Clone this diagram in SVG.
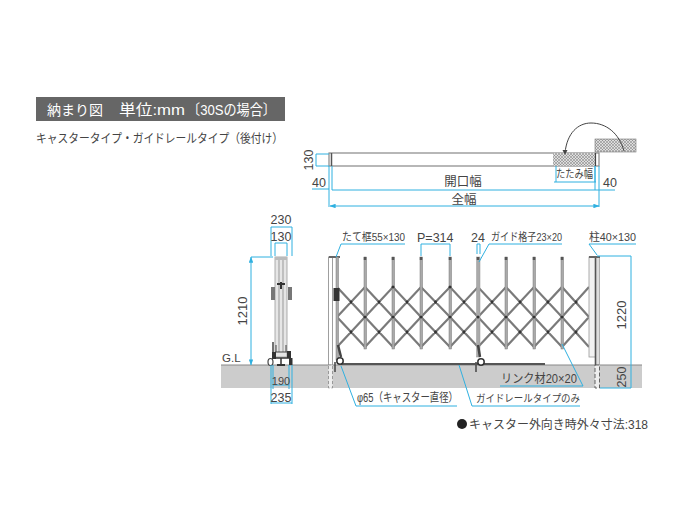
<svg xmlns="http://www.w3.org/2000/svg" width="700" height="524" viewBox="0 0 700 524">
<defs>
<style>
text{font-family:"Liberation Sans","Noto Sans CJK JP",sans-serif;fill:#444;font-size:12px}
.c{text-anchor:middle}
.d{stroke:#2fb0e0;stroke-width:1;fill:none}
.u{fill:#aaa;stroke:#777;stroke-width:.5}
.l{stroke:#7a7a7a;stroke-width:2.2;fill:none}
.k{stroke:#444;fill:none;stroke-width:1}
</style>
<pattern id="h" width="3" height="3" patternUnits="userSpaceOnUse"><rect width="3" height="3" fill="#ddd"/><circle cx="1" cy="1" r=".7" fill="#555"/><circle cx="2.5" cy="2.5" r=".5" fill="#777"/></pattern>
<marker id="a" viewBox="0 0 8 6" refX="7.5" refY="3" markerWidth="6" markerHeight="4.500" orient="auto-start-reverse"><path d="M0 0L8 3L0 6z" fill="#2fb0e0"/></marker>
</defs>
<rect width="700" height="524" fill="#fff"/>
<g id="title">
<rect x="36" y="97" width="249" height="24" fill="#666"/>
<text x="47" y="115" style="font-size:14px;fill:#fff" textLength="56" lengthAdjust="spacingAndGlyphs">納まり図</text>
<text x="119" y="115" style="font-size:14.500px;fill:#fff" textLength="66" lengthAdjust="spacingAndGlyphs">単位:mm</text>
<text x="187" y="115" style="font-size:14.500px;fill:#fff" textLength="89" lengthAdjust="spacingAndGlyphs">〔30Sの場合〕</text>
<text x="36" y="143" style="font-size:12.500px" textLength="247" lengthAdjust="spacingAndGlyphs">キャスタータイプ・ガイドレールタイプ（後付け）</text>
</g>
<g id="ground">
<rect x="221" y="365" width="421" height="23" fill="#ccc"/>
<path d="M221 365H642" stroke="#888" stroke-width="1"/>
<text x="222" y="362" style="font-size:11.500px">G.L</text>
</g>
<g id="plan">
<rect x="329" y="153" width="270" height="13" fill="#fff" stroke="#888" stroke-width="1.200"/>
<path d="M331.500 153V166" stroke="#555" stroke-width="1.500"/>
<rect x="553" y="153" width="42" height="13" fill="url(#h)"/>
<path d="M595.500 153V166" stroke="#444" stroke-width="1.200"/>
<rect x="595" y="139" width="41" height="13" fill="url(#h)" stroke="#777" stroke-width=".6"/>
<path d="M565 153C567 133 578 123 591 123C606 123 619 133 624 151" class="k"/>
<path d="M562.500 150L567.500 150L565 155z" fill="#444"/>
</g>
<g id="gate">
<rect x="328.500" y="257" width="4" height="108" fill="#fff" stroke="#888" stroke-width=".8"/>
<rect x="328.500" y="365" width="4" height="23" fill="#eee" stroke="#888" stroke-width=".8" stroke-dasharray="3 2"/>
<path d="M329 257H340" stroke="#666" stroke-width="2"/>
<path class="l" d="M337 317L365 347M337 317L365 287L393 317L421 347M337 347L365 317L393 287L421 317L450 347M365 347L393 317L421 287L450 317L478 347M393 347L421 317L450 287L478 317L506 347M421 347L450 317L478 287L506 317L534 347M450 347L478 317L506 287L534 317L562 347M478 347L506 317L534 287L562 317L589 347M506 347L534 317L562 287L589 317M534 347L562 317L589 287M562 347L589 317M337 287L365 317L393 347M365 287L393 317M562 287L589 317"/>
<g>
<rect x="336" y="257" width="2.500" height="103" class="u"/>
<rect x="364" y="257" width="2.500" height="92" class="u"/>
<rect x="392" y="257" width="2.500" height="92" class="u"/>
<rect x="420" y="257" width="2.500" height="92" class="u"/>
<rect x="449" y="257" width="2.500" height="92" class="u"/>
<rect x="476.500" y="257" width="3.500" height="100" fill="#aaa" stroke="#999" stroke-width=".5"/>
<rect x="505" y="257" width="2.500" height="92" class="u"/>
<rect x="533" y="257" width="2.500" height="92" class="u"/>
<rect x="561" y="257" width="2.500" height="92" class="u"/>
</g>
<path d="M365 257v3M393 257v3M421 257v3M450 257v3M478 257v3M506 257v3M534 257v3M562 257v3" stroke="#555" stroke-width="2.500"/>
<path d="M351 302h.01M379 302h.01M407 302h.01M435.500 302h.01M464 302h.01M492 302h.01M520 302h.01M548 302h.01M576 302h.01M351 332h.01M379 332h.01M407 332h.01M435.500 332h.01M464 332h.01M492 332h.01M520 332h.01M548 332h.01M576 332h.01M393 287h.01M450 287h.01M365 317h.01M393 317h.01M421 317h.01M450 317h.01M478 317h.01M506 317h.01M534 317h.01M562 317h.01" stroke="#333" stroke-width="3" stroke-linecap="round"/>
<rect x="333.500" y="288" width="6" height="13" fill="#333"/>
<path d="M338 345L341 357M478 345L480 357" stroke="#444" stroke-width="2.500"/>
<path d="M335 362V372M476 362V372" stroke="#444" stroke-width="1.500"/>
<path d="M341 364H545" stroke="#555" stroke-width="2"/>
<circle cx="340" cy="361" r="3.200" fill="#fff" stroke="#333" stroke-width="1.500"/>
<circle cx="481" cy="362" r="3.200" fill="#fff" stroke="#333" stroke-width="1.500"/>
<rect x="589" y="257" width="7" height="100" fill="#f2f2f2" stroke="#999" stroke-width=".8"/>
<rect x="595.500" y="257" width="4" height="108" fill="#ddd" stroke="#888" stroke-width=".6"/>
<rect x="594.700" y="257" width="1.600" height="108" fill="#555"/>
<rect x="595" y="365" width="4.500" height="23" fill="#eee" stroke="#555" stroke-width=".9" stroke-dasharray="4 2"/>
<path d="M589 257H600" stroke="#666" stroke-width="2"/>
</g>
<g id="side">
<rect x="275" y="257" width="12" height="100" fill="#e6e6e6" stroke="#999" stroke-width=".8"/>
<path d="M279 260V352M283 260V352" stroke="#999" stroke-width="1"/>
<rect x="275" y="257" width="12" height="3" fill="#bbb"/>
<rect x="271" y="287" width="4" height="13" fill="#777"/>
<rect x="288" y="287" width="4" height="13" fill="#777"/>
<path d="M277 284H285M281 282V289" stroke="#333" stroke-width="2"/>
<path d="M276 345V352M286 345V352" stroke="#444" stroke-width="1"/>
<path d="M275 352H287" stroke="#444" stroke-width="1"/>
<path d="M273 342V352M289 352V358" stroke="#444" stroke-width="1.500"/>
<rect x="272" y="352" width="4" height="7" fill="#333"/>
<rect x="287" y="351" width="4" height="7" fill="#333"/>
<ellipse cx="270.500" cy="362" rx="2.500" ry="3.500" fill="#fff" stroke="#444" stroke-width="1.200"/>
<rect x="289" y="358" width="3.500" height="7" fill="#333"/>
<path d="M274 358H289M281 358V365" stroke="#333" stroke-width="1.500"/>
<path d="M277 365H285" stroke="#333" stroke-width="2"/>
</g>
<g id="connectors">
<path class="d" d="M316 154H329M316 166H329M316 154V166"/>
<path class="d" d="M312 189H329M329 166V207M599 166V207M332 166V190M595 166V190"/>
<path class="d" d="M332 190H615"/>
<path class="d" d="M330 206H599" marker-start="url(#a)" marker-end="url(#a)"/>
<path class="d" d="M554 182H596M556 166V182M595 166V182"/>
<path class="d" d="M271 227V256M292 227V256M271 227H292"/>
<path class="d" d="M275 243H287M275 243V256M287 243V256"/>
<path class="d" d="M251 257H273"/>
<path class="d" d="M251 257V365" marker-start="url(#a)" marker-end="url(#a)"/>
<path class="d" d="M271 365V404M292 365V404M271 403H292M273 365V389M289 365V389M273 385H289"/>
<path class="d" d="M341 244H405M341 244L336 257"/>
<path class="d" d="M421 256V244H450V256"/>
<path class="d" d="M477 254V244H480V254"/>
<path class="d" d="M489 244H562M489 244L479 262"/>
<path class="d" d="M589 244H636M589 244L597 255"/>
<path class="d" d="M597 256H631"/>
<path class="d" d="M631 256V388M600 388H631"/>
<path class="d" d="M341 366L356 406H457"/>
<path class="d" d="M459 365L472 406H580"/>
<path class="d" d="M500 386H583L562 344"/>
</g>
<g id="labels">
<text x="309" y="160" class="c" transform="rotate(-90 309 160)" style="font-size:12.500px" dy="4">130</text>
<text x="319" y="187" class="c" style="font-size:12.500px">40</text>
<text x="463" y="186" class="c" style="font-size:12.500px">開口幅</text>
<text x="464" y="204" class="c" style="font-size:12.500px">全幅</text>
<text x="556" y="178" style="font-size:11px" textLength="37" lengthAdjust="spacingAndGlyphs">たたみ幅</text>
<text x="610" y="187" class="c" style="font-size:12.500px">40</text>
<text x="281" y="224" class="c" style="font-size:12.500px">230</text>
<text x="281" y="241" class="c" style="font-size:12.500px">130</text>
<text x="243" y="311" class="c" transform="rotate(-90 243 311)" style="font-size:13px" dy="4">1210</text>
<text x="281" y="385" class="c" style="font-size:11px">190</text>
<text x="281" y="402" class="c" style="font-size:12.500px">235</text>
<text x="342" y="241" style="font-size:11px" textLength="63" lengthAdjust="spacingAndGlyphs">たて框55×130</text>
<text x="417" y="242" style="font-size:12.500px">P=314</text>
<text x="471" y="242" style="font-size:12.500px">24</text>
<text x="491" y="241" style="font-size:11px" textLength="71" lengthAdjust="spacingAndGlyphs">ガイド格子23×20</text>
<text x="589" y="241" style="font-size:11.500px" textLength="47" lengthAdjust="spacingAndGlyphs">柱40×130</text>
<text x="622" y="315" class="c" transform="rotate(-90 622 315)" style="font-size:13px" dy="4">1220</text>
<text x="622" y="377" class="c" transform="rotate(-90 622 377)" style="font-size:12.500px" dy="4">250</text>
<text x="501" y="383" style="font-size:12px" textLength="76" lengthAdjust="spacingAndGlyphs">リンク材20×20</text>
<text x="357" y="402" style="font-size:12px" textLength="101" lengthAdjust="spacingAndGlyphs">φ65（キャスター直径）</text>
<text x="476" y="402" style="font-size:10.500px" textLength="104" lengthAdjust="spacingAndGlyphs">ガイドレールタイプのみ</text>
<circle cx="462" cy="424" r="5" fill="#222"/>
<text x="469" y="429" style="font-size:12px" textLength="179" lengthAdjust="spacingAndGlyphs">キャスター外向き時外々寸法:318</text>
</g>
</svg>
